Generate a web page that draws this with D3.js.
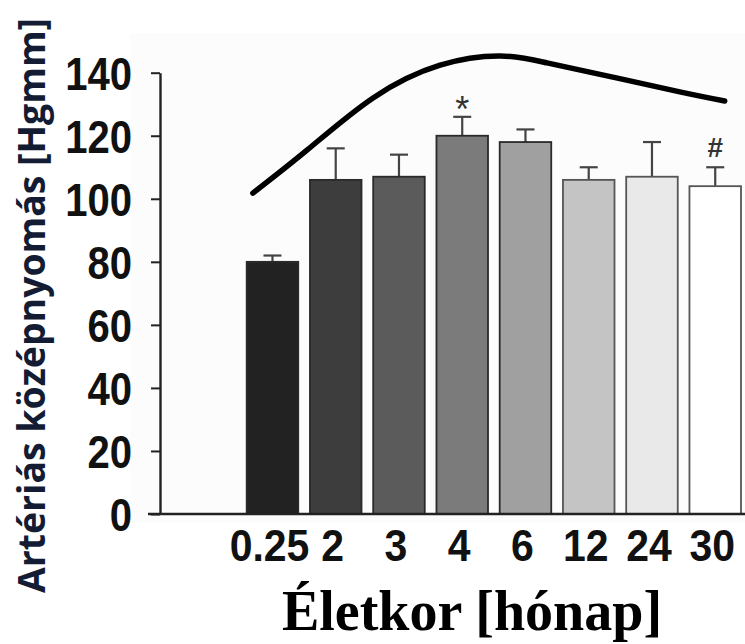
<!DOCTYPE html>
<html>
<head>
<meta charset="utf-8">
<script src="https://cdn.jsdelivr.net/npm/d3@7"></script>
<style>
  body { margin: 0; background: #fff; }
  svg { display: block; }
</style>
</head>
<body>
<svg id="chart" width="745" height="644"></svg>
<script>
// data
const ages = ["0.25", "2", "3", "4", "6", "12", "24", "30"];
const meanPressure = [80, 106, 107, 120, 118, 106, 107, 104];
const errorUp = [2, 10, 7, 6, 4, 4, 11, 6];
const barColors = ["#222222", "#3d3d3d", "#5b5b5b", "#7b7b7b", "#a0a0a0", "#c4c4c4", "#e9e9e9", "#ffffff"];
const yTicks = [0, 20, 40, 60, 80, 100, 120, 140];
// trend curve, position measured in category steps from the first bar
const curvePos = [-0.31, 0.55, 1.59, 2.65, 3.60, 4.34, 5.38, 6.44, 7.15];
const curveVal = [101.8, 115.5, 132.0, 142.4, 145.3, 143.1, 138.6, 133.9, 131.0];
const marks = [{ age: "4", sign: "*" }, { age: "30", sign: "#" }];

const svg = d3.select("#chart");

const x = d3.scaleBand().domain(ages).range([246.7, 741]).paddingInner(0.185).paddingOuter(0);
const y = d3.scaleLinear().domain([0, 140]).range([514, 72.7]);
const xPos = d3.scaleLinear()
    .domain([0, ages.length - 1])
    .range([x(ages[0]) + x.bandwidth() / 2, x(ages[ages.length - 1]) + x.bandwidth() / 2]);

// faint plot background
svg.append("rect").attr("x", 130).attr("y", 33).attr("width", 615).attr("height", 490).attr("fill", "#fcfcfc");

// squeeze glyphs a little, the original type is narrower than Arial
function squeeze(sel, k) {
    sel.each(function() {
        const w = this.getComputedTextLength();
        d3.select(this).attr("textLength", w * k).attr("lengthAdjust", "spacingAndGlyphs");
    });
}

// bars
const data = ages.map((a, i) => ({ age: a, value: meanPressure[i], err: errorUp[i], color: barColors[i] }));

const gErr = svg.append("g");
gErr.selectAll("line.stem").data(data).enter().append("line")
    .attr("x1", d => x(d.age) + x.bandwidth() / 2)
    .attr("x2", d => x(d.age) + x.bandwidth() / 2)
    .attr("y1", d => y(d.value))
    .attr("y2", d => y(d.value + d.err))
    .attr("stroke", "#444").attr("stroke-width", 2.2);
gErr.selectAll("line.cap").data(data).enter().append("line")
    .attr("x1", d => x(d.age) + x.bandwidth() / 2 - 9)
    .attr("x2", d => x(d.age) + x.bandwidth() / 2 + 9)
    .attr("y1", d => y(d.value + d.err))
    .attr("y2", d => y(d.value + d.err))
    .attr("stroke", "#444").attr("stroke-width", 2.2);

svg.append("g").selectAll("rect").data(data).enter().append("rect")
    .attr("x", d => x(d.age))
    .attr("y", d => y(d.value))
    .attr("width", x.bandwidth())
    .attr("height", d => y(0) - y(d.value))
    .attr("fill", d => d.color)
    .attr("stroke", (d, i) => i < 5 ? "#2a2a2a" : "#555")
    .attr("stroke-width", 1.8);

// significance marks
svg.append("g").selectAll("text").data(marks).enter().append("text")
    .attr("x", d => x(d.age) + x.bandwidth() / 2)
    .attr("y", d => {
        const i = ages.indexOf(d.age);
        return y(meanPressure[i] + errorUp[i]) + (d.sign === "*" ? 5 : -10);
    })
    .attr("text-anchor", "middle")
    .attr("font-family", "Liberation Sans, Arial, sans-serif")
    .attr("font-size", d => d.sign === "*" ? 36 : 28)
    .attr("font-weight", d => d.sign === "*" ? "normal" : "bold")
    .attr("fill", "#333")
    .text(d => d.sign);

// y axis
const yAxis = d3.axisLeft(y).tickValues(yTicks).tickSize(9).tickSizeOuter(0).tickPadding(19);
const gy = svg.append("g").attr("transform", "translate(160,0)").call(yAxis);
gy.select(".domain").attr("stroke", "#222").attr("stroke-width", 2.4);
gy.selectAll(".tick line").attr("stroke", "#222").attr("stroke-width", 2);
gy.selectAll(".tick text")
    .attr("font-family", "Liberation Sans, Arial, sans-serif")
    .attr("font-size", 46).attr("font-weight", "bold").attr("fill", "#111")
    .attr("dy", "0.36em")
    .call(squeeze, 0.87);

// x axis
svg.append("line").attr("x1", 148).attr("x2", 745).attr("y1", y(0)).attr("y2", y(0))
    .attr("stroke", "#222").attr("stroke-width", 2.4);
const xAxis = d3.axisBottom(x).tickSize(0).tickPadding(15);
const gx = svg.append("g").attr("transform", `translate(0,${y(0)})`).call(xAxis);
gx.select(".domain").remove();
gx.selectAll(".tick text")
    .attr("font-family", "Liberation Sans, Arial, sans-serif")
    .attr("font-size", 45).attr("font-weight", "bold").attr("fill", "#111")
    .attr("dx", -3)
    .call(squeeze, 0.91);

// trend curve
const line = d3.line()
    .x(d => xPos(d[0]))
    .y(d => y(d[1]))
    .curve(d3.curveNatural);
svg.append("path")
    .datum(curvePos.map((p, i) => [p, curveVal[i]]))
    .attr("d", line)
    .attr("fill", "none")
    .attr("stroke", "#000")
    .attr("stroke-width", 5.5)
    .attr("stroke-linecap", "round");

// axis titles
svg.append("text")
    .attr("x", 472).attr("y", 630)
    .attr("text-anchor", "middle")
    .attr("font-family", "Liberation Serif, Times New Roman, serif")
    .attr("font-size", 56).attr("font-weight", "bold").attr("fill", "#000")
    .text("Életkor [hónap]");

svg.append("text")
    .attr("transform", "translate(45,593) rotate(-90)")
    .attr("text-anchor", "start")
    .attr("font-family", "Open Sans, Noto Sans, sans-serif")
    .attr("font-size", 38).attr("font-weight", "bold").attr("fill", "#131c33")
    .attr("textLength", 575).attr("lengthAdjust", "spacingAndGlyphs")
    .text("Artériás középnyomás [Hgmm]");
</script>
</body>
</html>
